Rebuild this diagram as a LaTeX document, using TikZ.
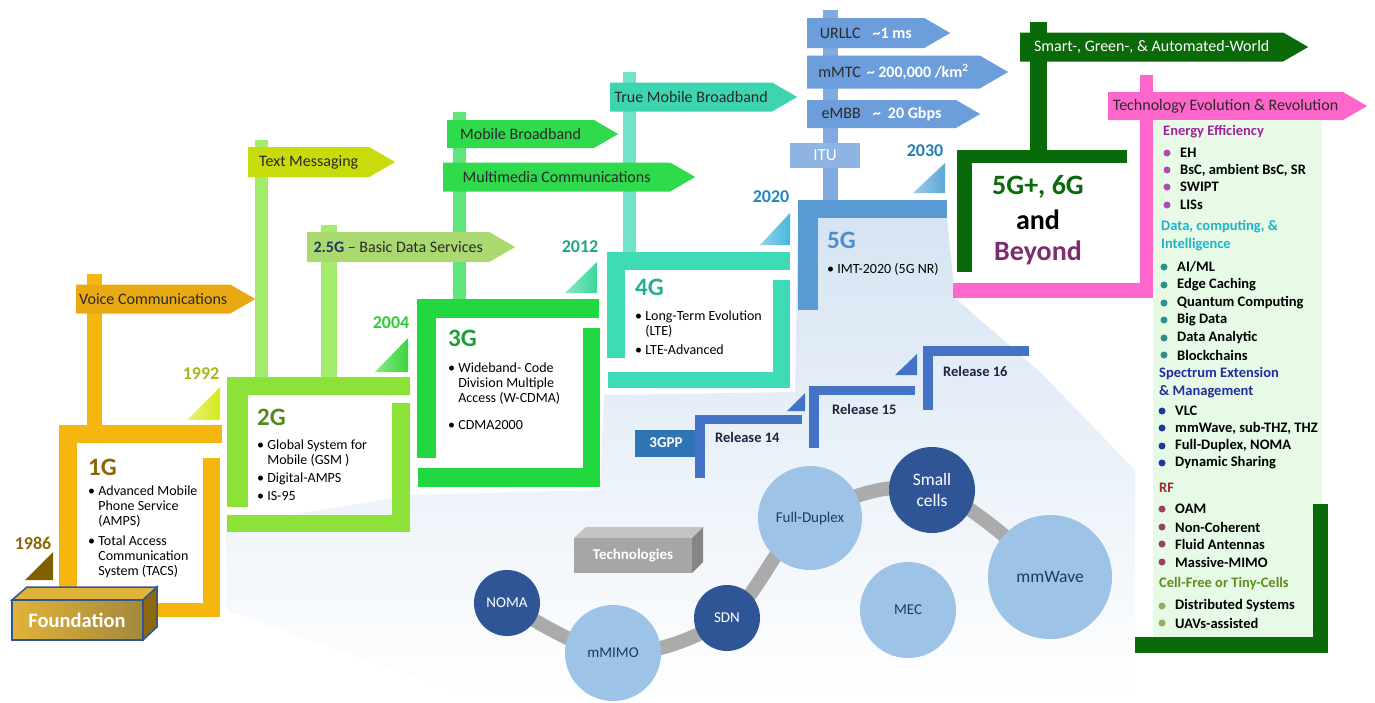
\documentclass[tikz,border=0pt]{standalone}
\usepackage{fontspec}
\setmainfont{Carlito}
\usetikzlibrary{shapes.symbols}

\definecolor{goldbar}{HTML}{F5B70F}
\definecolor{goldsign}{HTML}{E9A912}
\definecolor{goldtext}{HTML}{8B6508}
\definecolor{fdnfront}{HTML}{C99A12}
\definecolor{fdntop}{HTML}{E0B33A}
\definecolor{fdnside}{HTML}{8C6A0C}
\definecolor{fdnline}{HTML}{2F5597}
\definecolor{tri86}{HTML}{7F6000}
\definecolor{yr92}{HTML}{A8B71C}
\definecolor{tri92}{HTML}{D6EA1C}
\definecolor{limebar}{HTML}{8DE23A}
\definecolor{limepost}{HTML}{A4EC6C}
\definecolor{limesign}{HTML}{C8DC0C}
\definecolor{datasign}{HTML}{A9D96F}
\definecolor{gen2}{HTML}{4E8A1E}
\definecolor{navy}{HTML}{1F3864}
\definecolor{yr04}{HTML}{2DCB3C}
\definecolor{tri04}{HTML}{3CD63C}
\definecolor{greenbar}{HTML}{22D840}
\definecolor{greenpost}{HTML}{60E47C}
\definecolor{greensign}{HTML}{2FDA4C}
\definecolor{gen3}{HTML}{1E9B3C}
\definecolor{yr12}{HTML}{22A585}
\definecolor{tri12}{HTML}{38D99A}
\definecolor{tealbar}{HTML}{3FDAB6}
\definecolor{tealpost}{HTML}{72E2C9}
\definecolor{tealsign}{HTML}{3CD5B0}
\definecolor{gen4}{HTML}{22AE90}
\definecolor{yr20}{HTML}{1F87BF}
\definecolor{tri20}{HTML}{48B6DE}
\definecolor{bluebar}{HTML}{5B9BD5}
\definecolor{bluepost}{HTML}{80AAE0}
\definecolor{bluesign}{HTML}{6C9EDB}
\definecolor{itubox}{HTML}{8DB4E2}
\definecolor{gen5}{HTML}{4A8FD0}
\definecolor{yr30}{HTML}{1F7FB5}
\definecolor{tri30}{HTML}{5AA8D8}
\definecolor{darkgreen}{HTML}{0A6A0A}
\definecolor{pinkbar}{HTML}{FF66CC}
\definecolor{beyond}{HTML}{7B2D6E}
\definecolor{panel}{HTML}{E6FAE6}
\definecolor{haze}{HTML}{D6E4F3}
\definecolor{relblue}{HTML}{4472C4}
\definecolor{reltext}{HTML}{1F2440}
\definecolor{gppbox}{HTML}{2E75B6}
\definecolor{bublight}{HTML}{9DC3E6}
\definecolor{bubdark}{HTML}{2F5597}
\definecolor{chain}{HTML}{ABABAB}
\definecolor{techfront}{HTML}{A6A6A6}
\definecolor{techtop}{HTML}{C4C4C4}
\definecolor{techside}{HTML}{858585}
\definecolor{signtext}{HTML}{2A2A2A}
\definecolor{eeHead}{HTML}{A0239B}
\definecolor{eeDot}{HTML}{B048B5}
\definecolor{dcHead}{HTML}{22B2C8}
\definecolor{dcDot}{HTML}{2F8F8F}
\definecolor{spHead}{HTML}{1F2FA0}
\definecolor{spDot}{HTML}{1F3799}
\definecolor{rfHead}{HTML}{A52A2A}
\definecolor{rfDot}{HTML}{A04060}
\definecolor{cfHead}{HTML}{5C8E1E}
\definecolor{cfDot}{HTML}{9AAA60}

\newcommand{\bulind}{\phantom{\textbullet\ }}

\tikzstyle{signpost} = [signal, signal to=east, signal from=nowhere,
signal pointer angle=60,
minimum height=29pt,
inner sep=3pt,
anchor=west,
text=signtext,
font=\fontsize{16}{19}\selectfont]
\tikzstyle{year} = [font=\bfseries\fontsize{18}{21}\selectfont]
\tikzstyle{gen} = [anchor=west, inner sep=0pt, font=\bfseries\fontsize{25}{28}\selectfont]
\tikzstyle{bullets} = [anchor=north west, align=left, inner sep=0pt,
font=\fontsize{14}{15}\selectfont]
\tikzstyle{listhead} = [anchor=west, inner sep=0pt, align=left,
font=\bfseries\fontsize{14.5}{18}\selectfont]
\tikzstyle{listitem} = [anchor=west, inner sep=0pt, font=\bfseries\fontsize{14.5}{16}\selectfont]
\tikzstyle{release} = [anchor=west, inner sep=0pt, text=reltext,
font=\bfseries\fontsize{14.5}{16}\selectfont]
\tikzstyle{bubble} = [circle, inner sep=0pt, align=center,
font=\fontsize{15}{18}\selectfont]
\tikzstyle{chainline} = [line width=14pt, draw=chain]

\begin{document}
\begin{tikzpicture}[x=1pt, y=-1pt]
\useasboundingbox (0,0) rectangle (1375,702);

% background haze
\shade[top color=haze, middle color=haze!55, bottom color=white]
(226,610) -- (226,525) -- (413,495) -- (600,490) -- (604,395) -- (795,392)
-- (798,218) -- (947,218) -- (955,298) -- (1040,372) -- (1135,470) -- (1135,702) -- (480,702) -- cycle;

% posts (behind every sign)
\fill[goldbar] (87,274) rectangle (102,425);
\fill[limepost] (255,140) rectangle (268,377);
\fill[limepost] (321,225) rectangle (337,377);
\fill[greenpost] (453,112) rectangle (466,299);
\fill[tealpost] (623,72) rectangle (636,252);
\fill[bluepost] (823,10) rectangle (838,200);
\fill[darkgreen] (1030,22) rectangle (1047,150);
\fill[pinkbar] (1140,75) rectangle (1153,298);

% 1G
\node (voice) [signpost, fill=goldsign, minimum width=174pt] at (76,299) {Voice Communications};
\fill[goldbar] (59,425) rectangle (222,443);
\fill[goldbar] (59,425) rectangle (77,592);
\fill[goldbar] (203,458) rectangle (220,617);
\fill[goldbar] (152,603) rectangle (220,617);
\node (g1) [gen, text=goldtext] at (88,467) {1G};
\node (g1list) [bullets] at (88,486) {\textbullet\ Advanced Mobile\\\bulind Phone Service\\\bulind (AMPS)\\[5pt]\textbullet\ Total Access\\\bulind Communication\\\bulind System (TACS)};

% foundation block
\fill[fdntop, draw=fdnline, line width=1.5pt] (12,600) -- (27,587) -- (157,587) -- (143,600) -- cycle;
\fill[fdnside, draw=fdnline, line width=1.5pt] (143,600) -- (157,587) -- (157,627) -- (143,640) -- cycle;
\shade[left color=fdntop, right color=fdnside!80, draw=fdnline, line width=1.5pt] (12,600) rectangle (143,640);
\node (found) [text=white, font=\bfseries\fontsize{20.5}{24}\selectfont] at (77,620) {Foundation};

% 2G
\node (textmsg) [signpost, fill=limesign, minimum width=147pt, minimum height=30pt] at (248,162) {Text Messaging};
\node (basic) [signpost, fill=datasign, minimum width=208pt, minimum height=30pt] at (307,247) {\textbf{\textcolor{navy}{2.5G}} -- Basic Data Services};
\fill[limebar] (227,377) rectangle (410,395);
\fill[limebar] (227,377) rectangle (248,507);
\fill[limebar] (392,403) rectangle (410,532);
\fill[limebar] (227,515) rectangle (410,532);
\node (g2) [gen, text=gen2] at (257,417) {2G};
\node (g2list) [bullets] at (257,440) {\textbullet\ Global System for\\\bulind Mobile (GSM )\\[3pt]\textbullet\ Digital-AMPS\\[3pt]\textbullet\ IS-95};

% 3G
\node (mobile) [signpost, fill=greensign, minimum width=171pt, minimum height=28pt] at (447,134) {Mobile Broadband};
\node (multi) [signpost, fill=greensign, minimum width=252pt, minimum height=29pt] at (443,177) {Multimedia Communications};
\fill[greenbar] (417,299) rectangle (599,318);
\fill[greenbar] (417,299) rectangle (436,458);
\fill[greenbar] (583,328) rectangle (600,487);
\fill[greenbar] (418,468) rectangle (600,487);
\node (g3) [gen, text=gen3] at (448,338) {3G};
\node (g3list) [bullets] at (448,363) {\textbullet\ Wideband- Code\\\bulind Division Multiple\\\bulind Access (W-CDMA)\\[12pt]\textbullet\ CDMA2000};

% 4G
\node (truemob) [signpost, fill=tealsign, minimum width=187pt] at (610,97) {True Mobile Broadband};
\fill[tealbar] (607,252) rectangle (790,270);
\fill[tealbar] (607,252) rectangle (625,358);
\fill[tealbar] (773,280) rectangle (790,388);
\fill[tealbar] (608,372) rectangle (790,388);
\node (g4) [gen, text=gen4] at (635,287) {4G};
\node (g4list) [bullets] at (635,311) {\textbullet\ Long-Term Evolution\\\bulind (LTE)\\[4pt]\textbullet\ LTE-Advanced};

% 5G
\node (urllc) [signpost, fill=bluesign, minimum width=143pt, minimum height=30pt] at (807,33) {URLLC\hspace{12pt}\textcolor{white}{\bfseries\textasciitilde1 ms}};
\node (mmtc) [signpost, fill=bluesign, minimum width=201pt, minimum height=33pt] at (807,72) {mMTC\hspace{6pt}\textcolor{white}{\bfseries\textasciitilde\ 200,000 /km\textsuperscript{2}}};
\node (embb) [signpost, fill=bluesign, minimum width=173pt, minimum height=28pt] at (807,114) {eMBB\hspace{12pt}\textcolor{white}{\bfseries\textasciitilde\ \ 20 Gbps}};
\node (itu) [rectangle, fill=itubox, text=white, minimum width=70pt, minimum height=25pt, font=\fontsize{17}{20}\selectfont] at (825,155) {ITU};
\fill[bluebar] (798,200) rectangle (947,218);
\fill[bluebar] (798,200) rectangle (818,310);
\node (g5) [gen, text=gen5] at (827,240) {5G};
\node (g5list) [bullets] at (827,263) {\textbullet\ IMT-2020 (5G NR)};

% 5G+, 6G and beyond
\node (smart) [signpost, fill=darkgreen, text=white, minimum width=288pt] at (1020,47) {Smart-, Green-, \& Automated-World};
\fill[darkgreen] (957,150) rectangle (1127,163);
\fill[darkgreen] (957,150) rectangle (972,272);
\fill[pinkbar] (953,283) rectangle (1153,298);
\node (techevo) [signpost, fill=pinkbar, minimum width=259pt, minimum height=28pt] at (1108,106) {Technology Evolution \& Revolution};
\node (g6a) [font=\bfseries\fontsize{28}{32}\selectfont, text=darkgreen] at (1038,187) {5G+, 6G};
\node (g6b) [font=\bfseries\fontsize{28}{32}\selectfont] at (1038,220) {and};
\node (g6c) [font=\bfseries\fontsize{28}{32}\selectfont, text=beyond] at (1038,253) {Beyond};

% technology list
\fill[panel] (1153,120) rectangle (1322,637);
\fill[darkgreen] (1313,504) rectangle (1328,653);
\fill[darkgreen] (1135,637) rectangle (1328,653);
\node (eehead) [listhead, text=eeHead] at (1163,132) {Energy Efficiency};
\foreach \y/\t in {153/EH, 170/{BsC, ambient BsC, SR}, 187/SWIPT, 205/LISs} {
  \fill[eeDot] (1167,\y) circle (3.5);
  \node (ee\y) [listitem] at (1180,\y) {\t};
}
\node (dchead) [listhead, text=dcHead] at (1161,236) {Data, computing, \&\\Intelligence};
\foreach \y/\t in {267/{AI/ML}, 285/Edge Caching, 303/Quantum Computing, 320/Big Data, 338/Data Analytic, 355/Blockchains} {
  \fill[dcDot] (1164,\y) circle (3.5);
  \node (dc\y) [listitem] at (1177,\y) {\t};
}
\node (sphead) [listhead, text=spHead] at (1159,383) {Spectrum Extension\\\& Management};
\foreach \y/\t in {411/VLC, 428/{mmWave, sub-THZ, THZ}, 446/{Full-Duplex, NOMA}, 463/Dynamic Sharing} {
  \fill[spDot] (1162,\y) circle (3.5);
  \node (sp\y) [listitem] at (1175,\y) {\t};
}
\node (rfhead) [listhead, text=rfHead] at (1159,488) {RF};
\foreach \y/\t in {509/OAM, 527/Non-Coherent, 544/Fluid Antennas, 562/Massive-MIMO} {
  \fill[rfDot] (1162,\y) circle (3.5);
  \node (rf\y) [listitem] at (1175,\y) {\t};
}
\node (cfhead) [listhead, text=cfHead] at (1159,584) {Cell-Free or Tiny-Cells};
\foreach \y/\t in {606/Distributed Systems, 623/UAVs-assisted} {
  \fill[cfDot] (1162,\y) circle (3.5);
  \node (cf\y) [listitem] at (1175,\y) {\t};
}

% years
\fill[tri86] (25,580) -- (53,580) -- (53,552) -- cycle;
\node (y1986) [year, text=goldtext] at (33,543) {1986};
\shade[left color=tri92!60!white, right color=tri92] (187,420) -- (220,420) -- (220,387) -- cycle;
\node (y1992) [year, text=yr92] at (201,374) {1992};
\shade[left color=tri04!60!white, right color=tri04] (375,372) -- (408,372) -- (408,338) -- cycle;
\node (y2004) [year, text=yr04] at (391,323) {2004};
\shade[left color=tri12!60!white, right color=tri12] (565,293) -- (597,293) -- (597,262) -- cycle;
\node (y2012) [year, text=yr12] at (580,247) {2012};
\shade[left color=tri20!60!white, right color=tri20] (760,245) -- (790,245) -- (790,213) -- cycle;
\node (y2020) [year, text=yr20] at (771,197) {2020};
\shade[left color=tri30!60!white, right color=tri30] (913,193) -- (945,193) -- (945,163) -- cycle;
\node (y2030) [year, text=yr30] at (925,151) {2030};

% 3GPP releases
\node (gpp) [rectangle, fill=gppbox, text=white, minimum width=62pt, minimum height=27pt, font=\bfseries\fontsize{15}{17}\selectfont] at (666,443) {3GPP};
\fill[relblue] (695,415) rectangle (705,478);
\fill[relblue] (695,415) rectangle (802,424);
\fill[relblue] (787,411) -- (805,411) -- (805,393) -- cycle;
\fill[relblue] (809,386) rectangle (819,448);
\fill[relblue] (809,386) rectangle (915,395);
\fill[relblue] (895,375) -- (917,375) -- (917,354) -- cycle;
\fill[relblue] (923,346) rectangle (933,410);
\fill[relblue] (923,346) rectangle (1029,356);
\node (rel14) [release] at (715,437) {Release 14};
\node (rel15) [release] at (832,409) {Release 15};
\node (rel16) [release] at (943,371) {Release 16};

% technologies
\fill[techtop] (574,538) -- (586,527) -- (703,527) -- (692,538) -- cycle;
\fill[techside] (692,538) -- (703,527) -- (703,562) -- (692,573) -- cycle;
\node (tech) [rectangle, fill=techfront, text=white, minimum width=118pt, minimum height=35pt, font=\bfseries\fontsize{15}{18}\selectfont] at (633,555.5) {Technologies};

\coordinate (pNoma) at (507,603);
\coordinate (pMimo) at (613,653);
\coordinate (pSdn) at (727,618);
\coordinate (pFull) at (810,518);
\coordinate (pSmall) at (932,490);
\coordinate (pWave) at (1050,577);
\draw[chainline] plot[smooth, tension=0.6] coordinates {(pNoma) (pMimo) (pSdn) (pFull) (pSmall) (pWave)};

\node (noma) [bubble, fill=bubdark, text=white, minimum size=66pt] at (pNoma) {NOMA};
\node (mimo) [bubble, fill=bublight, text=navy, minimum size=96pt] at (pMimo) {mMIMO};
\node (sdn) [bubble, fill=bubdark, text=white, minimum size=66pt] at (pSdn) {SDN};
\node (full) [bubble, fill=bublight, text=navy, minimum size=104pt] at (pFull) {Full-Duplex};
\node (small) [bubble, fill=bubdark, text=white, minimum size=86pt, font=\fontsize{17.5}{21}\selectfont] at (pSmall) {Small\\cells};
\node (wave) [bubble, fill=bublight, text=navy, minimum size=124pt, font=\fontsize{17.5}{20}\selectfont] at (pWave) {mmWave};
\node (mec) [bubble, fill=bublight, text=navy, minimum size=96pt] at (908,610) {MEC};
\end{tikzpicture}
\end{document}
